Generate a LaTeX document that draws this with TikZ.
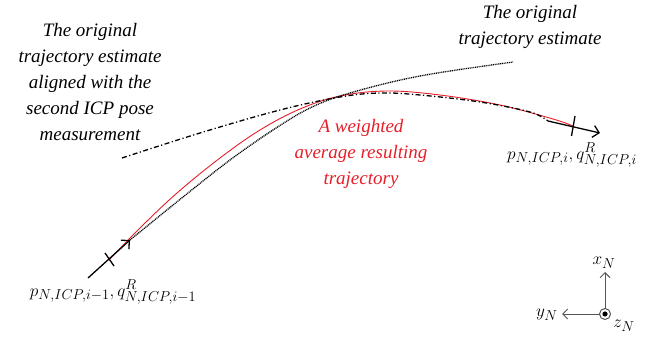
\documentclass[tikz,border=0pt]{standalone}
\usepackage{fontspec}
\setmainfont{Liberation Serif}
\usetikzlibrary{arrows.meta,calc}
\DeclareMathSizes{19}{19}{14}{11}
\definecolor{trajred}{RGB}{230,30,40}
\definecolor{axgray}{RGB}{85,85,85}
\tikzset{
  lbl/.style={font=\itshape\fontsize{19}{26}\selectfont, align=center, inner sep=0pt},
  mlbl/.style={font=\fontsize{19}{21}\selectfont, inner sep=0pt},
  redtraj/.style={draw=trajred, line width=0.9pt},
  dottraj/.style={draw=black, line width=1.3pt, dash pattern=on 1pt off 0.8pt},
  dashdottraj/.style={draw=black, line width=1.3pt, dash pattern=on 5pt off 2.5pt on 1.2pt off 2.5pt},
  posearrow/.style={draw=black, line width=1.3pt, -{Straight Barb[length=6pt,width=12pt,line width=1.3pt]}},
  tick/.style={draw=black, line width=1.3pt},
  axis/.style={draw=axgray, line width=1pt, -{Straight Barb[length=5pt,width=10pt,line width=1pt]}},
}
\begin{document}
\begin{tikzpicture}[x=1pt,y=-1pt]
\useasboundingbox (0,0) rectangle (646,337);
% key points
\coordinate (s0) at (88,278);
\coordinate (s1) at (130,240);
\coordinate (c1) at (109,260);
\coordinate (e0) at (548,121);
\coordinate (e1) at (600,133);
\coordinate (c2) at (573,126);
% red weighted trajectory
\draw[redtraj] plot[smooth, tension=0.6] coordinates {(c1) (140,228) (177,193) (220,158) (260,130) (300,109) (340,96) (387,91) (440,95) (500,105) (553,119) (c2)};
% dotted original trajectory
\draw[dottraj] plot[smooth, tension=0.6] coordinates {(s1) (183,197) (230,160) (273,130) (310,108) (350,93) (420,76) (513,62)};
% dash-dot aligned trajectory
\draw[dashdottraj] plot[smooth, tension=0.6] coordinates {(122,158) (200,133) (280,110) (340,97) (380,93) (420,95) (480,102) (530,112) (e0)};
% pose arrows and ticks
\draw[posearrow] (s0) -- (s1);
\draw[tick] ($(c1)+(-4,-7)$) -- ($(c1)+(5,6)$);
\draw[posearrow] (e0) -- (e1);
\draw[tick] ($(c2)+(2,-10)$) -- ($(c2)+(-1.5,10)$);
% labels
\node[lbl] (t1) at (90,82) {The original\\trajectory estimate\\aligned with the\\second ICP pose\\measurement};
\node[lbl] (t2) at (530,27) {The original\\trajectory estimate};
\node[lbl, text=trajred] (t3) at (361,154) {A weighted\\average resulting\\trajectory};
\node[mlbl] (m1) at (113,292) {$p_{N,ICP,i-1}, q^R_{N,ICP,i-1}$};
\node[mlbl] (m2) at (572,155) {$p_{N,ICP,i}, q^R_{N,ICP,i}$};
% axes
\coordinate (o) at (605,314);
\draw[axgray, line width=1pt] (o) circle (5.5);
\fill[black] (o) circle (2.6);
\coordinate (xa) at (605,272);
\coordinate (ya) at (562,314);
\draw[axis] ($(o)+(0,-5.5)$) -- (xa);
\draw[axis] ($(o)+(-5.5,0)$) -- (ya);
\node[mlbl] (xl) at (604,263) {$x_N$};
\node[mlbl] (yl) at (547,315) {$y_N$};
\node[mlbl] (zl) at (624,326) {$z_N$};
\end{tikzpicture}
\end{document}
